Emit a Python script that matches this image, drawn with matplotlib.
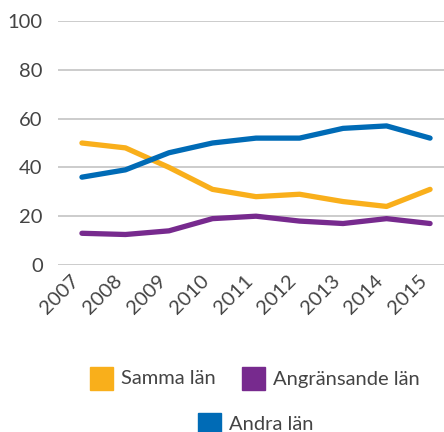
import matplotlib
matplotlib.use('Agg')
import matplotlib.pyplot as plt
from matplotlib.patches import Rectangle

plt.rcParams['font.family'] = ['Lato', 'DejaVu Sans']

years = ['2007', '2008', '2009', '2010', '2011', '2012', '2013', '2014', '2015']
samma_lan = [50, 48, 40, 31, 28, 29, 26, 24, 31]
angransande_lan = [13, 12.5, 14, 19, 20, 18, 17, 19, 17]
andra_lan = [36, 39, 46, 50, 52, 52, 56, 57, 52]

labels = ['Samma län', 'Angränsande län', 'Andra län']
colors = ['#F9AF1B', '#772A8E', '#006BB6']
yticks = [0, 20, 40, 60, 80, 100]

fig = plt.figure(figsize=(4.44, 4.32), dpi=100)
ax = fig.add_axes([58 / 444, 1 - 265 / 432, 386 / 444, 244 / 432])

x = list(range(len(years)))
for vals, lab, col in zip([samma_lan, angransande_lan, andra_lan], labels, colors):
    ax.plot(x, vals, color=col, lw=3.8, solid_capstyle='round', clip_on=False, zorder=3)

ax.set_xlim(-0.55, 8.32)
ax.set_ylim(0, 100)
ax.set_yticks(yticks)
ax.set_xticks(x)
ax.set_xticklabels(years, rotation=45, ha='right', va='top', fontsize=14.5)
ax.grid(axis='y', color='#cccccc', lw=1.4)
ax.set_axisbelow(True)
for s in ax.spines.values():
    s.set_visible(False)
ax.tick_params(axis='both', length=0, colors='#444444')
ax.tick_params(axis='y', pad=11, labelsize=14.5)
ax.tick_params(axis='x', pad=5)

# legend drawn by hand: two entries on the first row, one centred below
pos = [(90, 367), (242, 367), (198, 413)]
for (px, py), lab, col in zip(pos, labels, colors):
    fig.patches.append(Rectangle((px / 444, 1 - (py + 23) / 432), 23 / 444, 23 / 432,
                                 transform=fig.transFigure, color=col))
    fig.text((px + 31) / 444, 1 - (py + 12) / 432, lab, fontsize=14.5,
             color='#444444', va='center', ha='left')

fig.savefig('out.png', dpi=100)
